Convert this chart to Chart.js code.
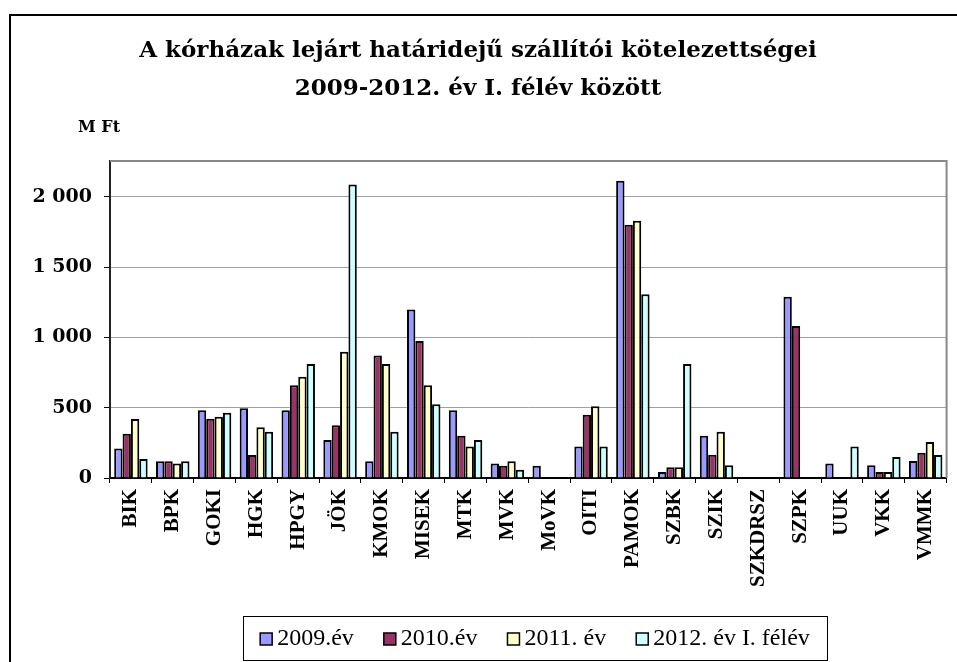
<!DOCTYPE html>
<html>
<head>
<meta charset="utf-8">
<script src="https://cdn.jsdelivr.net/npm/chart.js@4/dist/chart.umd.min.js"></script>
<style>
  html, body { margin: 0; padding: 0; background: #fff; overflow: hidden; }
  #wrap { width: 957px; height: 662px; }
</style>
</head>
<body>
<div id="wrap"><canvas id="chart" width="957" height="662"></canvas></div>
<script>
const categories = ['BIK', 'BPK', 'GOKI', 'HGK', 'HPGY', 'JÖK', 'KMOK', 'MISEK', 'MTK', 'MVK',
  'MoVK', 'OITI', 'PAMOK', 'SZBK', 'SZIK', 'SZKDRSZ', 'SZPK', 'UUK', 'VKK', 'VMMK'];
const seriesLabels = ['2009.év', '2010.év', '2011. év', '2012. év I. félév'];
const values2009 = [210, 119, 482, 496, 482, 270, 119, 1200, 482, 104, 88, 225, 2115, 43, 300, null, 1290, 104, 90, 121];
const values2010 = [315, 119, 422, 164, 660, 375, 871, 975, 300, 88, null, 451, 1803, 76, 166, null, 1082, null, 43, 180];
const values2011 = [420, 104, 436, 361, 721, 899, 811, 660, 225, 119, null, 510, 1831, 76, 330, null, null, null, 43, 256];
const values2012 = [135, 119, 465, 330, 811, 2088, 330, 524, 270, 59, null, 225, 1307, 811, 90, null, null, 225, 149, 164];
const yTicks = [0, 500, 1000, 1500, 2000];
const titleLines = ['A kórházak lejárt határidejű szállítói kötelezettségei', '2009-2012. év I. félév között'];
const unitLabel = 'M Ft';

const colors = ['#9999FF', '#993366', '#FFFFCC', '#CCFFFF'];
const serifBold = '"DejaVu Serif", serif';
const timesFont = '"Liberation Serif", "Times New Roman", serif';

function formatThousands(v) {
  return String(v).replace(/\B(?=(\d{3})+(?!\d))/g, ' ');
}

// frame, title, unit label, plot border and legend box are drawn here
const decorations = {
  id: 'decorations',
  beforeDraw(chart) {
    const ctx = chart.ctx;
    ctx.save();
    ctx.fillStyle = '#fff';
    ctx.fillRect(0, 0, chart.width, chart.height);
    ctx.strokeStyle = '#000';
    ctx.lineWidth = 2;
    ctx.strokeRect(10, 15, 1100, 1100);
    ctx.restore();
  },
  afterDatasetsDraw(chart) {
    const ctx = chart.ctx;
    const area = chart.chartArea;
    ctx.save();
    ctx.strokeStyle = '#888';
    ctx.lineWidth = 2;
    ctx.beginPath();
    ctx.moveTo(area.left, area.top);
    ctx.lineTo(area.right, area.top);
    ctx.lineTo(area.right, area.bottom);
    ctx.stroke();

    ctx.fillStyle = '#000';
    ctx.textAlign = 'center';
    ctx.textBaseline = 'middle';
    ctx.font = 'bold 23px ' + serifBold;
    ctx.fillText(titleLines[0], 478, 51);
    ctx.fillText(titleLines[1], 478, 89);

    ctx.textAlign = 'left';
    ctx.font = 'bold 16px ' + serifBold;
    ctx.fillText(unitLabel, 78, 128);

    // legend
    const box = { x: 243, y: 616, w: 584, h: 44 };
    ctx.strokeStyle = '#000';
    ctx.lineWidth = 1;
    ctx.strokeRect(box.x + 0.5, box.y + 0.5, box.w, box.h);
    ctx.font = '24px ' + timesFont;
    const sq = 12, gapSq = 5, gapItem = 30;
    const items = chart.data.datasets.map(d => ({ text: d.label, color: d.backgroundColor }));
    let total = 0;
    items.forEach((it, i) => {
      it.w = ctx.measureText(it.text).width;
      total += sq + gapSq + it.w + (i < items.length - 1 ? gapItem : 0);
    });
    let x = box.x + (box.w - total) / 2;
    const cy = box.y + box.h / 2 + 1;
    items.forEach(it => {
      ctx.fillStyle = it.color;
      ctx.fillRect(x, cy - sq / 2, sq, sq);
      ctx.strokeStyle = '#000';
      ctx.lineWidth = 1.5;
      ctx.strokeRect(x, cy - sq / 2, sq, sq);
      x += sq + gapSq;
      ctx.fillStyle = '#000';
      ctx.textBaseline = 'middle';
      ctx.fillText(it.text, x, cy);
      x += it.w + gapItem;
    });
    ctx.restore();
  }
};

const datasets = [values2009, values2010, values2011, values2012].map((vals, i) => ({
  label: seriesLabels[i],
  data: vals,
  backgroundColor: colors[i],
  borderColor: '#000',
  borderWidth: 2,
  categoryPercentage: 0.8,
  barPercentage: 1.0
}));

new Chart(document.getElementById('chart'), {
  type: 'bar',
  data: { labels: categories, datasets: datasets },
  options: {
    responsive: false,
    animation: false,
    layout: { padding: { left: 0, top: 161, right: 5, bottom: 0 } },
    plugins: {
      legend: { display: false },
      title: { display: false },
      tooltip: { enabled: false }
    },
    scales: {
      x: {
        offset: true,
        grid: {
          offset: true,
          drawOnChartArea: false,
          drawTicks: true,
          tickLength: 5,
          color: '#000'
        },
        border: { display: true, color: '#000', width: 2 },
        ticks: {
          autoSkip: false,
          minRotation: 90,
          maxRotation: 90,
          padding: 6,
          color: '#000',
          font: { family: timesFont, size: 21, weight: 'bold' }
        },
        afterFit(scale) { scale.height = 184; }
      },
      y: {
        min: 0,
        max: 2256,
        grid: {
          color: '#a0a0a0',
          lineWidth: 1,
          tickLength: 6,
          tickColor: '#000',
          drawTicks: true
        },
        border: { display: true, color: '#222', width: 2 },
        afterBuildTicks(scale) {
          scale.ticks = yTicks.map(v => ({ value: v }));
        },
        ticks: {
          padding: 12,
          color: '#000',
          font: { family: serifBold, size: 19, weight: 'bold' },
          callback: v => formatThousands(v)
        },
        afterFit(scale) { scale.width = 110; }
      }
    }
  },
  plugins: [decorations]
});
</script>
</body>
</html>
